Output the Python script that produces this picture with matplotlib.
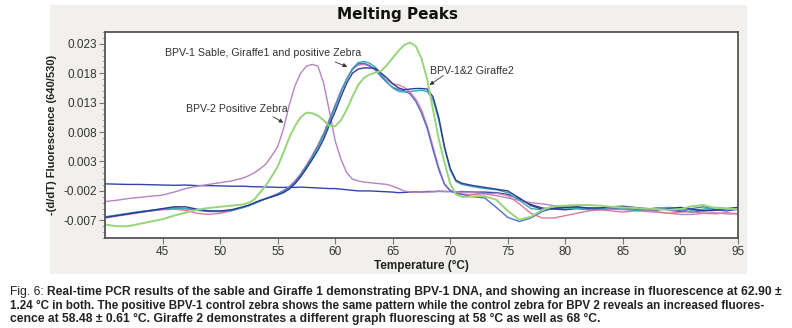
import matplotlib as mpl
mpl.use('Agg')
import matplotlib.pyplot as plt
from matplotlib.patches import Rectangle
import numpy as np

# temperature grid (deg C): 1 deg steps at the ends, 0.5 deg around the peaks
temps = np.concatenate([np.arange(40, 52.1, 1.0), np.arange(52.5, 72.1, 0.5), np.arange(73, 95.1, 1.0)])

# -(d/dT) fluorescence, in units of 1e-3
neg_control = [-0.8, -0.85, -0.9, -0.9, -0.95, -1.0, -1.05, -1.0, -1.1, -1.1, -1.15, -1.2, -1.2,
               -1.25, -1.3, -1.3, -1.35, -1.35, -1.4, -1.4, -1.4, -1.4, -1.35, -1.4, -1.45, -1.5, -1.55, -1.6, -1.6,
               -1.7, -1.8, -1.9, -2.0, -2.0, -2.0, -2.05, -2.1, -2.15, -2.2, -2.3, -2.25, -2.2, -2.15, -2.2, -2.1,
               -2.1, -2.05, -2.1, -2.1, -2.15, -2.1, -2.15, -2.2,
               -2.2, -2.3, -2.6, -3.4, -4.3, -4.9, -5.1, -5.2, -5.0, -5.1, -5.2, -5.0, -4.9, -5.1, -5.3, -5.2,
               -5.0, -5.4, -5.6, -5.3, -5.2, -5.4, -5.1]
bpv2_zebra = [-3.8, -3.6, -3.3, -3.1, -2.9, -2.7, -2.2, -1.6, -1.2, -0.9, -0.6, -0.3, 0.2,
              0.6, 1.1, 1.8, 2.6, 4.0, 5.5, 8.5, 12.5, 15.8, 18.0, 19.2, 19.5, 19.2, 16.3, 11.5, 6.5,
              3.4, 1.1, 0.0, -0.3, -0.5, -0.6, -0.7, -0.8, -0.9, -1.2, -1.6, -2.0, -2.2, -2.2, -2.2, -2.2,
              -2.15, -2.1, -2.1, -2.1, -2.15, -2.2, -2.2, -2.3,
              -2.5, -2.8, -3.2, -3.6, -4.0, -4.2, -4.5, -4.7, -4.8, -4.9, -5.0, -5.1, -5.2, -5.3, -5.5, -5.6,
              -5.8, -6.0, -6.0, -5.8, -5.7, -5.9, -5.9]
giraffe2 = [-7.7, -8.0, -8.0, -7.6, -7.2, -6.8, -6.2, -5.7, -5.2, -4.9, -4.7, -4.5, -4.3,
            -4.0, -3.4, -2.2, -1.0, 0.5, 2.1, 4.5, 7.0, 9.0, 10.5, 11.3, 11.2, 10.8, 10.0, 9.0, 9.0,
            10.0, 11.8, 14.0, 16.0, 17.2, 17.8, 18.1, 18.4, 19.4, 20.6, 21.8, 22.8, 23.2, 22.6, 20.5, 16.9,
            11.8, 6.8, 2.8, -0.8, -2.6, -3.0, -3.0, -2.9,
            -2.9, -3.5, -5.4, -6.9, -6.4, -5.2, -4.6, -4.5, -4.4, -4.4, -4.5, -4.7, -4.8, -4.9, -5.0, -5.1,
            -5.2, -5.1, -4.6, -4.4, -4.9, -5.0, -5.1]
bpv1_navy = [-6.5, -6.2, -5.9, -5.6, -5.3, -5.0, -4.7, -4.7, -5.1, -5.4, -5.4, -5.2, -4.7,
             -4.4, -4.0, -3.6, -3.3, -3.0, -2.7, -2.3, -1.7, -0.8, 0.4, 1.8, 3.3, 4.9, 6.8, 9.2, 11.5,
             14.0, 16.3, 18.0, 18.7, 18.9, 18.9, 18.8, 18.0, 17.2, 16.2, 15.5, 15.2, 15.3, 15.4, 15.4, 15.3,
             14.0, 10.5, 5.5, 1.8, -0.2, -0.7, -0.9, -1.1,
             -1.4, -1.7, -2.0, -3.2, -4.5, -5.1, -5.0, -4.8, -4.7, -4.9, -4.9, -4.7, -4.6, -4.8, -5.0, -5.2,
             -5.0, -4.8, -5.1, -5.4, -5.3, -5.0, -4.8]
bpv1_teal = [-6.4, -6.1, -5.8, -5.5, -5.3, -5.1, -5.0, -5.0, -5.2, -5.4, -5.5, -5.3, -4.8,
             -4.5, -4.1, -3.7, -3.3, -3.0, -2.6, -2.2, -1.6, -0.7, 0.5, 2.0, 3.6, 5.4, 7.4, 9.8, 12.2,
             14.8, 17.0, 18.8, 19.8, 20.0, 19.7, 19.0, 17.8, 16.5, 15.5, 14.9, 14.8, 14.9, 15.0, 15.1, 14.9,
             13.5, 10.0, 5.2, 1.5, -0.4, -0.9, -1.1, -1.3,
             -1.6, -1.8, -2.3, -3.6, -5.0, -5.2, -5.0, -4.9, -5.0, -5.2, -5.0, -4.8, -5.0, -5.3, -5.2, -4.9,
             -4.8, -5.0, -5.3, -5.1, -4.8, -5.0, -5.2]
bpv1_pink = [-6.6, -6.3, -6.0, -5.7, -5.4, -5.2, -5.1, -5.3, -5.8, -6.0, -5.8, -5.4, -4.8,
             -4.5, -4.1, -3.7, -3.3, -2.9, -2.5, -2.0, -1.3, -0.3, 0.9, 2.4, 4.0, 5.8, 7.8, 10.2, 12.6,
             15.0, 17.0, 18.6, 19.4, 19.5, 19.2, 18.6, 17.6, 16.8, 16.2, 16.0, 15.6, 14.8, 13.6, 11.8, 9.0,
             5.5, 2.0, -0.8, -1.9, -2.3, -2.5, -2.6, -2.6,
             -2.5, -2.4, -2.8, -4.2, -5.8, -6.6, -6.6, -6.2, -5.8, -5.4, -5.2, -5.4, -5.6, -5.4, -5.3, -5.6,
             -5.8, -5.6, -5.5, -5.8, -5.9, -5.7, -5.9]
bpv1_blue = [-6.5, -6.2, -5.9, -5.6, -5.4, -5.1, -4.9, -5.0, -5.3, -5.5, -5.5, -5.3, -4.8,
             -4.5, -4.1, -3.7, -3.3, -2.9, -2.5, -2.0, -1.4, -0.5, 0.7, 2.2, 3.8, 5.6, 7.6, 10.0, 12.4,
             14.9, 17.0, 18.7, 19.6, 19.7, 19.3, 18.5, 17.4, 16.4, 15.6, 15.2, 15.0, 14.5, 13.2, 11.2, 8.6,
             5.0, 1.6, -0.9, -2.0, -2.4, -2.6, -2.8, -3.0,
             -3.2, -4.8, -6.5, -7.2, -6.6, -5.5, -4.9, -4.8, -4.8, -5.0, -4.9, -4.7, -4.8, -5.0, -5.1, -4.9,
             -5.3, -5.5, -5.0, -4.7, -5.0, -5.3, -4.9]

series = [
    (neg_control, '#3443ad', 1.0),
    (bpv2_zebra, '#b683c2', 1.0),
    (bpv1_pink, '#e07a9c', 1.0),
    (bpv1_blue, '#4d6fcf', 1.0),
    (bpv1_teal, '#3aa8b0', 1.0),
    (bpv1_navy, '#2d3a92', 1.0),
    (giraffe2, '#98d47a', 1.4),
]

fig = plt.figure(figsize=(7.92, 3.28), dpi=100)
fig.patches.append(Rectangle((50 / 792, 1 - 274 / 328), 697 / 792, 269 / 328,
                             transform=fig.transFigure, facecolor='#f1f0ec', edgecolor='none', zorder=-10))

ax = fig.add_axes([105 / 792, 1 - 238 / 328, 633 / 792, 206 / 328])
ax.set_zorder(1)
ax.set_facecolor('white')
for vals, col, lw in series:
    ax.plot(temps, np.array(vals) * 1e-3, color=col, lw=lw)

ax.set_xlim(40, 95)
ax.set_ylim(-0.010, 0.025)
ax.set_xticks(np.arange(45, 96, 5))
yt = np.arange(-0.007, 0.0231, 0.005)
ax.set_yticks(yt)
ax.set_yticklabels(['%.3f' % v for v in yt])
ax.set_yticks(np.arange(-0.010, 0.0251, 0.001), minor=True)
ax.tick_params(axis='both', which='major', direction='out', length=4, width=0.8, color='#777777',
               labelsize=8.5, labelcolor='#333333', pad=2)
ax.tick_params(axis='y', which='minor', direction='out', length=2, width=0.6, color='#999999')
for lab in ax.get_xticklabels() + ax.get_yticklabels():
    lab.set_family('Liberation Sans')
for s in ax.spines.values():
    s.set_color('#555555')
    s.set_linewidth(1.3)

ax.set_ylabel('-(d/dT) Fluorescence (640/530)', fontsize=8, fontweight='bold', family='Liberation Sans',
              color='#222222', labelpad=4)
ax.set_xlabel('Temperature (°C)', fontsize=8.5, fontweight='bold', family='Liberation Sans',
              color='#222222', labelpad=1)
fig.text(398 / 792, 1 - 15 / 328, 'Melting Peaks', ha='center', va='center', fontsize=11,
         fontweight='bold', family='DejaVu Sans', color='#111111')

# peak labels with short arrows
akw = dict(fontsize=7.7, family='Liberation Sans', color='#333333', va='center', ha='left')
arw = dict(arrowstyle='-|>', color='#333333', lw=0.6, mutation_scale=6, shrinkA=0, shrinkB=0)
ax.text(45.2, 0.0215, 'BPV-1 Sable, Giraffe1 and positive Zebra', **akw)
ax.annotate('', xy=(61.05, 0.0191), xytext=(60.0, 0.0199), arrowprops=arw)
ax.text(47.0, 0.0120, 'BPV-2 Positive Zebra', **akw)
ax.annotate('', xy=(55.5, 0.0096), xytext=(54.6, 0.0106), arrowprops=arw)
ax.text(68.2, 0.0184, 'BPV-1&2 Giraffe2', **akw)
ax.annotate('', xy=(68.2, 0.0160), xytext=(69.4, 0.0176), arrowprops=arw)

cap = 'Liberation Sans'
fig.text(10 / 792, 1 - 292 / 328, 'Fig. 6:', fontsize=8.7, family=cap, va='center', color='#222222')
fig.text(47 / 792, 1 - 292 / 328,
         'Real-time PCR results of the sable and Giraffe 1 demonstrating BPV-1 DNA, and showing an increase in fluorescence at 62.90 ±',
         fontsize=8.7, family=cap, fontweight='bold', va='center', color='#222222')
fig.text(10 / 792, 1 - 306 / 328,
         '1.24 °C in both. The positive BPV-1 control zebra shows the same pattern while the control zebra for BPV 2 reveals an increased fluores-',
         fontsize=8.4, family=cap, fontweight='bold', va='center', color='#222222')
fig.text(10 / 792, 1 - 319 / 328,
         'cence at 58.48 ± 0.61 °C. Giraffe 2 demonstrates a different graph fluorescing at 58 °C as well as 68 °C.',
         fontsize=8.7, family=cap, fontweight='bold', va='center', color='#222222')

plt.savefig('out.png', dpi=100)
plt.close()
